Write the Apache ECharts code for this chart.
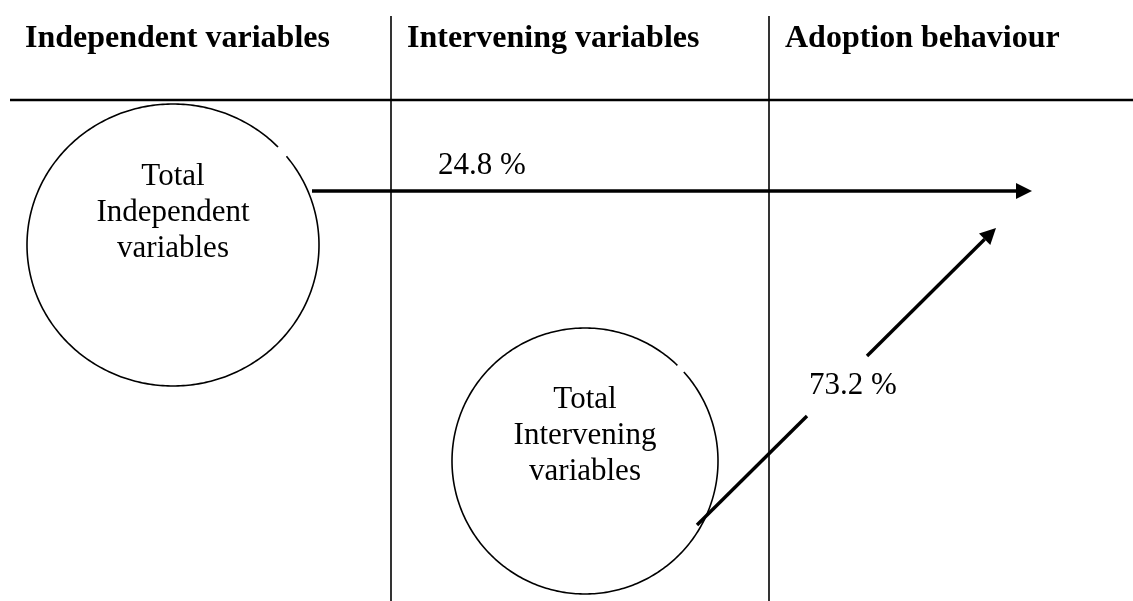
<!DOCTYPE html>
<html>
<head>
<meta charset="utf-8">
<script src="https://cdn.jsdelivr.net/npm/echarts@6/dist/echarts.min.js"></script>
<style>
html,body{margin:0;padding:0;background:#fff;}
#chart{width:1133px;height:601px;}
</style>
</head>
<body>
<div id="chart"></div>
<script>
// ---- data ----
const headers = ['Independent variables', 'Intervening variables', 'Adoption behaviour'];
const nodeLabels = [
  ['Total', 'Independent', 'variables'],
  ['Total', 'Intervening', 'variables']
];
const pathValues = [24.8, 73.2];
const pathUnit = ' %';

// ---- layout (diagram geometry in canvas units) ----
const W = 1133, H = 601;
const headerX = [25, 407, 785];
const headerY = 39;
const colRulesX = [391, 769];
const colRuleTop = 16;
const headRuleY = 100;
const nodeGeom = [
  { cx: 173, cy: 245, rx: 146, ry: 141, gap: [-44, -39], textY: 213 },
  { cx: 585, cy: 461, rx: 133, ry: 133, gap: [-46, -42], textY: 436 }
];
const arrowGeom = [
  { segs: [[[312, 191], [1032, 191]]], label: [482, 166] },
  { segs: [[[697, 525], [807, 416]], [[867, 356], [996, 228]]], label: [853, 386] }
];

const FONT = '"Liberation Serif", "Times New Roman", serif';

function renderRules(params, api) {
  const ch = [];
  colRulesX.forEach(function (x) {
    const a = api.coord([x, colRuleTop]), b = api.coord([x, H]);
    ch.push({ type: 'line', shape: { x1: a[0], y1: a[1], x2: b[0], y2: b[1] }, style: { stroke: '#000', lineWidth: 1.6 } });
  });
  const c = api.coord([10, headRuleY]), d = api.coord([W, headRuleY]);
  ch.push({ type: 'line', shape: { x1: c[0], y1: c[1], x2: d[0], y2: d[1] }, style: { stroke: '#000', lineWidth: 2.4 } });
  headers.forEach(function (t, i) {
    const p = api.coord([headerX[i], headerY]);
    ch.push({ type: 'text', x: p[0], y: p[1], style: { text: t, fill: '#000', font: 'bold 32px ' + FONT, textAlign: 'left', textVerticalAlign: 'middle' } });
  });
  return { type: 'group', children: ch };
}

function renderNode(params, api) {
  const i = params.dataIndex;
  const g = nodeGeom[i];
  const pts = [];
  const ch = [];
  // ellipse outline drawn through the axes, leaving the small gap seen in the reference
  const start = g.gap[1], end = g.gap[0] + 360;
  for (let a = start; a <= end; a += 1) {
    const r = a * Math.PI / 180;
    pts.push(api.coord([g.cx + g.rx * Math.cos(r), g.cy + g.ry * Math.sin(r)]));
  }
  ch.push({ type: 'polyline', shape: { points: pts }, style: { stroke: '#000', lineWidth: 1.6, fill: null } });
  const p = api.coord([g.cx, g.textY]);
  ch.push({ type: 'text', x: p[0], y: p[1], style: { text: nodeLabels[i].join('\n'), fill: '#000', font: '31px ' + FONT, lineHeight: 36, textAlign: 'center', textVerticalAlign: 'middle' } });
  return { type: 'group', children: ch };
}

function renderArrow(params, api) {
  const i = params.dataIndex;
  const g = arrowGeom[i];
  const ch = [];
  g.segs.forEach(function (s, k) {
    const a = api.coord(s[0]), b = api.coord(s[1]);
    const last = k === g.segs.length - 1;
    const ang = Math.atan2(b[1] - a[1], b[0] - a[0]);
    const headLen = 16, headW = 8;
    const bx = b[0] - headLen * Math.cos(ang), by = b[1] - headLen * Math.sin(ang);
    ch.push({ type: 'line', shape: { x1: a[0], y1: a[1], x2: last ? bx : b[0], y2: last ? by : b[1] }, style: { stroke: '#000', lineWidth: 3.4 } });
    if (last) {
      const px = -Math.sin(ang), py = Math.cos(ang);
      ch.push({ type: 'polygon', shape: { points: [[b[0], b[1]], [bx + px * headW, by + py * headW], [bx - px * headW, by - py * headW]] }, style: { fill: '#000' } });
    }
  });
  const lp = api.coord(g.label);
  ch.push({ type: 'text', x: lp[0], y: lp[1], style: { text: pathValues[i].toFixed(1) + pathUnit, fill: '#000', font: '31px ' + FONT, textAlign: 'center', textVerticalAlign: 'middle' } });
  if (i === 0) {
    // the reference's label is clipped just above the arrow
    const c1 = api.coord([430, 174]), c2 = api.coord([540, 186]);
    ch.push({ type: 'rect', shape: { x: c1[0], y: c1[1], width: c2[0] - c1[0], height: c2[1] - c1[1] }, style: { fill: '#fff' } });
  }
  return { type: 'group', children: ch };
}

const chart = echarts.init(document.getElementById('chart'), null, { renderer: 'canvas' });
chart.setOption({
  backgroundColor: '#fff',
  animation: false,
  grid: { left: 0, right: 0, top: 0, bottom: 0 },
  xAxis: { type: 'value', min: 0, max: W, show: false },
  yAxis: { type: 'value', min: 0, max: H, inverse: true, show: false },
  series: [
    { type: 'custom', renderItem: renderRules, data: [0], silent: true },
    { type: 'custom', renderItem: renderNode, data: nodeLabels.map(function (_, i) { return i; }), silent: true },
    { type: 'custom', renderItem: renderArrow, data: pathValues, silent: true }
  ]
});
</script>
</body>
</html>
